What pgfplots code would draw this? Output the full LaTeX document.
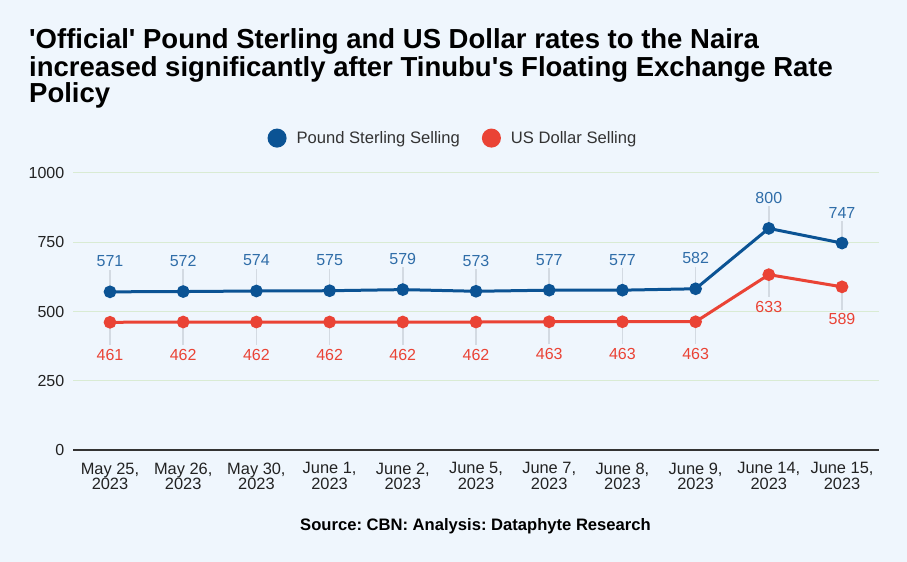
\documentclass[border=0pt]{standalone}
\usepackage{pgfplots}
\pgfplotsset{compat=1.18}
\usepackage{fontspec}
\setmainfont{Liberation Sans}
\newfontfamily\plainfont{Liberation Sans}
\definecolor{bg}{HTML}{EFF6FD}
\definecolor{blueline}{HTML}{0B5394}
\definecolor{bluelab}{HTML}{2F6DA8}
\definecolor{redline}{HTML}{EA4335}
\definecolor{gridg}{HTML}{D9EBD3}
\definecolor{leader}{HTML}{D3DAE2}
\definecolor{txt}{HTML}{222222}
\pgfplotstableread{
x y
0 571
1 572
2 574
3 575
4 579
5 573
6 577
7 577
8 582
9 800
10 747
}\pound
\pgfplotstableread{
x y
0 461
1 462
2 462
3 462
4 462
5 462
6 463
7 463
8 463
9 633
10 589
}\dollar
\begin{document}
\frenchspacing
\begin{tikzpicture}
\fill[bg] (0bp,0bp) rectangle (907bp,562bp);
\useasboundingbox (0bp,0bp) rectangle (907bp,562bp);
\begin{scope}[every node/.style={anchor=base west, inner sep=0pt, font=\plainfont\fontsize{27.5bp}{29bp}\selectfont\bfseries, text=black}]
\node at (29bp,513bp) {'Official' Pound Sterling and US Dollar rates to the Naira};
\node at (29bp,485.5bp) {increased significantly after Tinubu's Floating Exchange Rate};
\node at (29bp,459bp) {Policy};
\end{scope}
\node[anchor=base, inner sep=0pt, font=\fontsize{16.6bp}{18bp}\selectfont\bfseries, text=black] at (475.5bp,32bp) {Source: CBN: Analysis: Dataphyte Research};
\begin{axis}[
  at={(73.4bp,112bp)}, anchor=south west,
  scale only axis, width=805.2bp, height=277bp,
  xmin=-0.5, xmax=10.5, ymin=0, ymax=1000,
  clip=false,
  /pgf/number format/assume math mode=true,
  /pgf/number format/1000 sep={},
  ytick={0,250,500,750,1000},
  xtick={0,...,10},
  xticklabels={{May 25,\\2023},{May 26,\\2023},{May 30,\\2023},{June 1,\\2023},{June 2,\\2023},{June 5,\\2023},{June 7,\\2023},{June 8,\\2023},{June 9,\\2023},{June 14,\\2023},{June 15,\\2023}},
  xticklabel style={align=center, font=\fontsize{16.4bp}{15.5bp}\selectfont, text=txt, inner sep=0pt, yshift=-12.5bp},
  yticklabel style={font=\fontsize{16bp}{18bp}\selectfont, text=txt, inner sep=0pt, xshift=-9bp},
  ymajorgrids, grid style={draw=gridg, line width=1bp},
  tick style={draw=none},
  major tick length=0pt,
  separate axis lines,
  axis x line*=bottom, axis y line*=left,
  x axis line style={draw=black!80, line width=1.3bp, -},
  y axis line style={draw=none},
  legend columns=2,
  legend style={at={(0.4714,1.126)}, anchor=center, draw=none, fill=none,
    font=\fontsize{16.6bp}{18bp}\selectfont, text=black!80,
    /tikz/every even column/.append style={column sep=20bp}},
]
\addplot[forget plot, draw=none, mark=none, error bars/.cd, y dir=plus, y fixed=80, error mark=none, error bar style={draw=leader, line width=1.5bp}] table[x=x,y=y] {\pound};
\addplot[forget plot, draw=none, mark=none, error bars/.cd, y dir=minus, y fixed=82, error mark=none, error bar style={draw=leader, line width=1.5bp}] table[x=x,y=y] {\dollar};
\addplot[blueline, line width=3bp, mark=*, mark size=4.8bp, mark options={fill=blueline, draw=blueline},
  nodes near coords,
  every node near coord/.append style={anchor=center, yshift=30.5bp, text=bluelab, font=\fontsize{16bp}{18bp}\selectfont},
  legend image code/.code={\fill[blueline] (0bp,0bp) circle (8bp); \path (16bp,0bp);}
] table[x=x,y=y] {\pound};
\addlegendentry{Pound Sterling Selling}
\addplot[redline, line width=3bp, mark=*, mark size=4.8bp, mark options={fill=redline, draw=redline},
  nodes near coords,
  every node near coord/.append style={anchor=center, yshift=-32.5bp, text=redline, font=\fontsize{16bp}{18bp}\selectfont},
  legend image code/.code={\fill[redline] (0bp,0bp) circle (8bp); \path (16bp,0bp);}
] table[x=x,y=y] {\dollar};
\addlegendentry{US Dollar Selling}
\end{axis}
\end{tikzpicture}
\end{document}
